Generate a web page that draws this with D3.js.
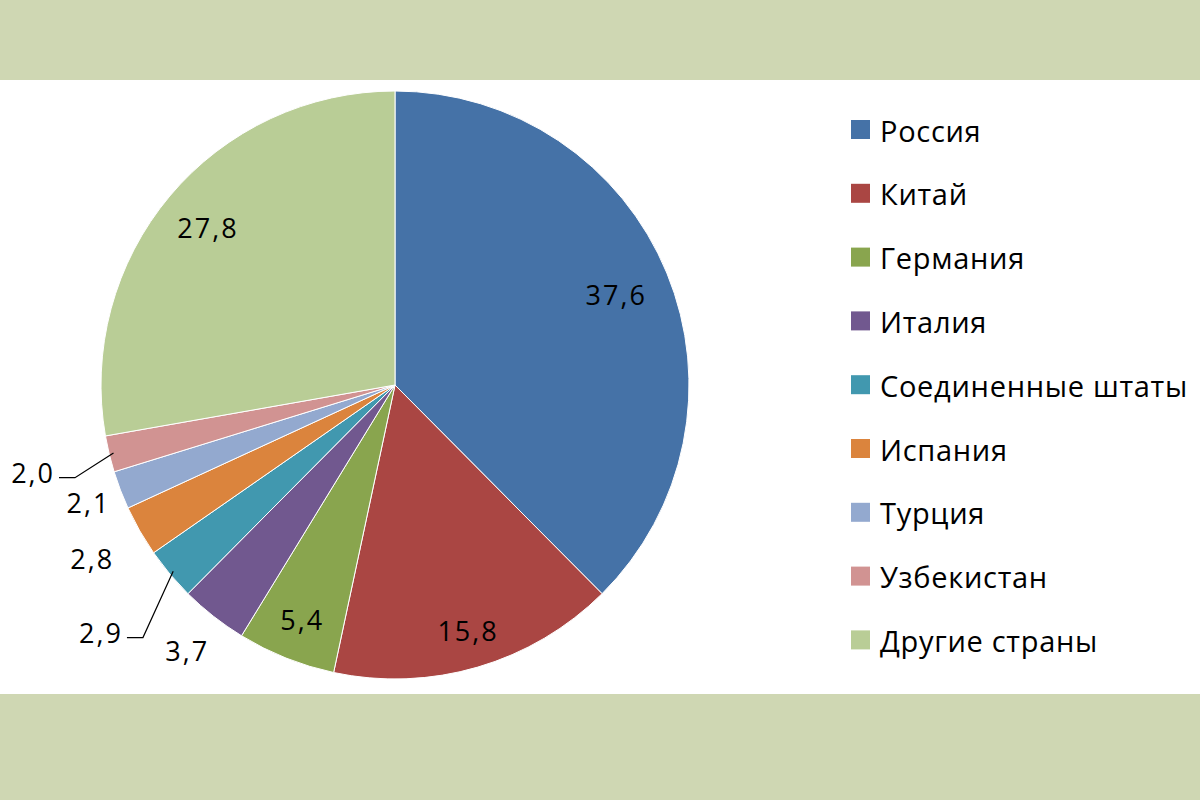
<!DOCTYPE html>
<html><head><meta charset="utf-8">
<script src="https://cdn.jsdelivr.net/npm/d3@7"></script>
<style>
html,body{margin:0;padding:0;background:#cfd7b3;}
svg{display:block;}
</style></head>
<body>
<svg id="chart" width="1200" height="800"></svg>
<script>
const categories = ["Россия","Китай","Германия","Италия","Соединенные штаты","Испания","Турция","Узбекистан","Другие страны"];
const values = [37.6,15.8,5.4,3.7,2.9,2.8,2.1,2.0,27.8];
const valueLabels = ["37,6","15,8","5,4","3,7","2,9","2,8","2,1","2,0","27,8"];
const colors = ["#4572a7","#aa4643","#89a54e","#71588f","#4198af","#db843d","#93a9cf","#d19392","#b9cd96"];

// layout: label radius factor (relative to pie radius), leader line flag
const labelRadius = [0.81,0.87,0.86,1.15,1.31,1.19,1.12,1.27,0.835];
const leader = [false,false,false,false,true,false,false,true,false];

const svg = d3.select("#chart");
svg.append("rect").attr("x",0).attr("y",80).attr("width",1200).attr("height",614).attr("fill","#ffffff");

const cx = 395, cy = 385, R = 294;
const g = svg.append("g").attr("transform",`translate(${cx},${cy})`);
const pie = d3.pie().sort(null).value(d=>d.v).startAngle(0).endAngle(2*Math.PI);
const data = categories.map((c,i)=>({c, v:values[i], lab:valueLabels[i], col:colors[i], i}));
const arcs = pie(data);
const arc = d3.arc().innerRadius(0).outerRadius(R);

g.selectAll("path.slice").data(arcs).join("path")
  .attr("class","slice")
  .attr("d",arc)
  .attr("fill",d=>d.data.col)
  .attr("stroke","#ffffff").attr("stroke-width",1);

function polar(a, r){ return [Math.sin(a)*r, -Math.cos(a)*r]; }

const fontFam = "'Open Sans', 'Noto Sans', sans-serif";
arcs.forEach(d=>{
  const i = d.data.i;
  const mid = (d.startAngle+d.endAngle)/2;
  const [lx,ly] = polar(mid, R*labelRadius[i]);
  const t = g.append("text")
    .attr("x",lx+1).attr("y",ly)
    .attr("text-anchor","middle").attr("dominant-baseline","central")
    .attr("font-family",fontFam).attr("font-size",27)
    .attr("letter-spacing","2px")
    .attr("fill","#000").text(d.data.lab);
  if (leader[i]) {
    const bb = t.node().getBBox();
    const [ex,ey] = polar(mid, R*0.985);
    const hx0 = bb.x + bb.width + 4, hy = ly + 5;
    const hx1 = hx0 + 16;
    g.append("path")
      .attr("d", `M${hx0},${hy}L${hx1},${hy}L${ex},${ey}`)
      .attr("fill","none").attr("stroke","#000").attr("stroke-width",1.2);
  }
});

// legend
const leg = svg.append("g");
const rowH = 63.8, top0 = 130;
categories.forEach((c,i)=>{
  const y = top0 + i*rowH;
  leg.append("rect").attr("x",851).attr("y",y-10).attr("width",19).attr("height",19).attr("fill",colors[i]);
  leg.append("text").attr("x",880).attr("y",y).attr("dominant-baseline","central")
    .attr("font-family",fontFam).attr("font-size",29).attr("letter-spacing","0.7px")
    .attr("fill","#000").text(c);
});
</script>
</body></html>
